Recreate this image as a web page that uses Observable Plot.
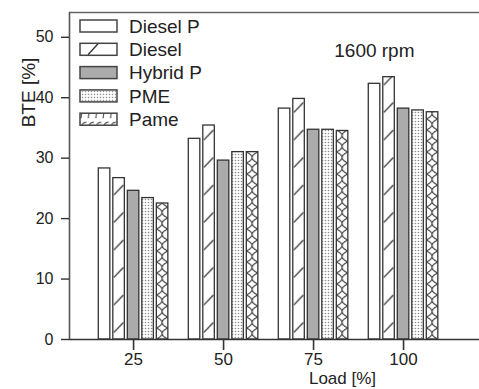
<!DOCTYPE html>
<html><head><meta charset="utf-8">
<script src="https://cdn.jsdelivr.net/npm/d3@7"></script>
<script src="https://cdn.jsdelivr.net/npm/@observablehq/plot@0.6"></script>
<style>body{margin:0;background:#fff} #chart{width:479px;height:389px}</style>
</head><body><div id="chart"></div>
<script>
const loads = [25, 50, 75, 100];
const seriesNames = ["Diesel P", "Diesel", "Hybrid P", "PME", "Pame"];
const dieselP = [28.3, 33.2, 38.2, 42.3];
const diesel = [26.7, 35.4, 39.8, 43.4];
const hybridP = [24.6, 29.6, 34.7, 38.2];
const pme = [23.4, 31.0, 34.7, 37.9];
const pame = [22.5, 31.0, 34.5, 37.6];
const yTicks = [0, 10, 20, 30, 40, 50];
const xTicks = loads;
const seriesValues = [dieselP, diesel, hybridP, pme, pame];

const xDomain = [7.2, 121.1];
const yDomain = [0, 54.1];
const step = 4.03, half = 1.6;

const rows = loads.flatMap((load, j) => seriesNames.map((name, i) => ({load, name, i, value: seriesValues[i][j]})));

const ink = "#333";
const font = "'Liberation Sans', Arial, Helvetica, sans-serif";

const marks = [];
seriesNames.forEach((name, i) => {
  marks.push(Plot.rect(rows.filter(d => d.i === i), {
    x1: d => d.load + (i - 2) * step - half,
    x2: d => d.load + (i - 2) * step + half,
    y1: 0, y2: "value",
    fill: `url(#pat${i})`, stroke: ink, strokeWidth: 1.3
  }));
});
marks.push(Plot.ruleY([0], {stroke: ink, strokeWidth: 1.6}));
marks.push(Plot.ruleY([yDomain[1]], {stroke: "#666", strokeWidth: 1.6}));
marks.push(Plot.ruleX([xDomain[0]], {stroke: "#555", strokeWidth: 1.6}));
marks.push(Plot.axisX(xTicks, {tickSize: 11, tickPadding: 2, fontSize: 17, stroke: ink, strokeWidth: 1.6, label: null}));
marks.push(Plot.axisY(yTicks, {tickSize: 8, tickPadding: 8, fontSize: 16, stroke: ink, strokeWidth: 1.4, label: null}));
marks.push(Plot.text(["BTE [%]"], {text: d => d, frameAnchor: "top-left", textAnchor: "middle", dx: -48, dy: 80, rotate: -90, fontSize: 19}));
marks.push(Plot.text(["Load [%]"], {text: d => d, frameAnchor: "bottom-left", textAnchor: "middle", dx: 273, dy: 44, fontSize: 17}));
marks.push(Plot.text(["1600 rpm"], {text: d => d, x: 91.9, y: 47.8, fontSize: 19}));

const plot = Plot.plot({
  width: 479, height: 389,
  marginTop: 12, marginLeft: 69, marginRight: 0, marginBottom: 50,
  x: {type: "linear", domain: xDomain},
  y: {domain: yDomain},
  style: {fontFamily: font, background: "#fff", color: "#222", overflow: "visible"},
  marks
});
document.getElementById("chart").appendChild(plot);

const svg = d3.select(plot);
const xs = plot.scale("x"), ys = plot.scale("y");
const period = xs.apply(50) - xs.apply(25);
const bw = xs.apply(half) - xs.apply(-half);
const y0 = ys.apply(0);
const defs = svg.insert("defs", ":first-child");
function pat(id, x0, w, h, y) {
  const p = defs.append("pattern").attr("id", id).attr("patternUnits", "userSpaceOnUse")
    .attr("x", x0).attr("y", y).attr("width", w).attr("height", h);
  p.append("rect").attr("width", w).attr("height", h).attr("fill", "#fff");
  return p;
}
const xStart = i => xs.apply(25 + (i - 2) * step - half);
pat("pat0", 0, 10, 10, 0);
const p1 = pat("pat1", xStart(1), period, 27.5, y0);
p1.append("line").attr("x1", 1).attr("y1", 21).attr("x2", bw - 1).attr("y2", 11).attr("stroke", ink).attr("stroke-width", 1.3);
const p2 = pat("pat2", 0, 10, 10, 0); p2.select("rect").attr("fill", "#ababab");
const p3 = pat("pat3", 0, 3, 3, 0);
p3.append("circle").attr("cx", 1.5).attr("cy", 1.5).attr("r", 0.8).attr("fill", "#8a8a8a");
const p4 = pat("pat4", xStart(4), period, 11, y0);
p4.append("path").attr("d", `M0,0 Q${bw},5.5 0,11 M${bw},0 Q0,5.5 ${bw},11`).attr("fill", "none").attr("stroke", ink).attr("stroke-width", 1.1);
const pl = pat("patLeg", 80, 7.4, 12, 0);
pl.append("path").attr("d", "M1,11 Q1,3 6.5,3").attr("fill", "none").attr("stroke", ink).attr("stroke-width", 1.1);

const leg = svg.append("g").attr("font-family", font).attr("font-size", 19).attr("fill", "#222").attr("text-anchor", "start");
seriesNames.forEach((name, i) => {
  const cy = 26 + i * 23.3;
  const g = leg.append("g").attr("transform", `translate(0,${cy})`);
  const fill = i === 4 ? "url(#patLeg)" : `url(#pat${i})`;
  g.append("rect").attr("x", 80).attr("y", -6).attr("width", 37).attr("height", 12)
    .attr("fill", i === 1 ? "#fff" : fill).attr("stroke", "#444").attr("stroke-width", 1.5);
  if (i === 1) g.append("line").attr("x1", 88).attr("y1", 5.5).attr("x2", 98).attr("y2", -5.5).attr("stroke", ink).attr("stroke-width", 1.3);
  g.append("text").attr("x", 129).attr("y", 0).attr("dy", "0.35em").attr("text-anchor", "start").text(name);
});
</script></body></html>
